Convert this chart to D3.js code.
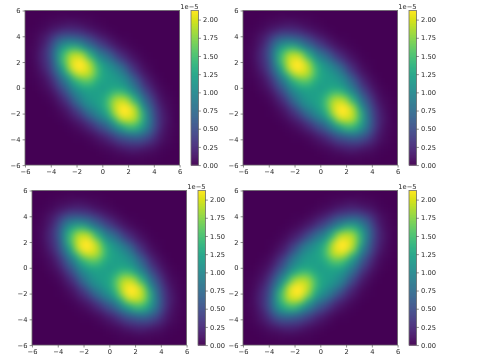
<!DOCTYPE html>
<html>
<head>
<meta charset="utf-8">
<script src="https://cdn.jsdelivr.net/npm/d3@7"></script>
<style>
  html, body { margin: 0; padding: 0; background: #fff; }
  svg { display: block; }
  text { font-family: "DejaVu Sans", sans-serif; font-size: 6.7px; fill: #262626; }
</style>
</head>
<body>
<svg id="chart" width="480" height="360"></svg>
<script>
// grid positions of the density samples
const xValues = d3.range(25).map(i => -6 + i * 0.5);
const yValues = d3.range(25).map(i => 6 - i * 0.5);

// density, in 1e-7, one row per y (6 down to -6)
const density = [
  [0,0,0,0,0,1,1,1,1,1,0,0,0,0,0,0,0,0,0,0,0,0,0,0,0],
  [0,0,0,1,2,2,4,3,3,2,2,1,0,0,0,0,0,0,0,0,0,0,0,0,0],
  [0,0,1,3,5,8,9,12,10,8,5,3,2,0,0,0,0,0,0,0,0,0,0,0,0],
  [0,1,3,6,14,18,26,26,25,20,14,9,5,3,1,0,0,0,0,0,0,0,0,0,0],
  [0,2,5,14,25,42,52,56,50,44,34,22,14,8,4,1,1,0,0,0,0,0,0,0,0],
  [1,2,8,18,42,68,90,98,93,80,62,45,31,19,10,5,2,1,0,0,0,0,0,0,0],
  [1,4,9,26,52,90,125,146,148,126,100,76,56,40,24,13,7,3,1,0,0,0,0,0,0],
  [1,3,12,26,56,98,146,185,195,185,141,108,86,68,47,28,16,8,3,1,0,0,0,0,0],
  [1,3,10,25,50,93,148,195,225,214,182,137,110,94,75,51,30,16,7,2,1,0,0,0,0],
  [1,2,8,20,44,80,126,185,214,222,195,155,126,110,98,80,51,28,13,5,1,0,0,0,0],
  [0,2,5,14,34,62,100,141,182,195,185,155,126,119,112,98,75,47,24,10,4,1,0,0,0],
  [0,1,3,9,22,45,76,108,137,155,155,135,124,118,119,110,94,68,40,19,8,3,0,0,0],
  [0,0,2,5,14,31,56,86,110,126,126,124,115,124,126,126,110,86,56,31,14,5,2,0,0],
  [0,0,0,3,8,19,40,68,94,110,119,118,124,135,155,155,137,108,76,45,22,9,3,1,0],
  [0,0,0,1,4,10,24,47,75,98,112,119,126,155,185,195,182,141,100,62,34,14,5,2,0],
  [0,0,0,0,1,5,13,28,51,80,98,110,126,155,195,222,214,185,126,80,44,20,8,2,1],
  [0,0,0,0,1,2,7,16,30,51,75,94,110,137,182,214,225,195,148,93,50,25,10,3,1],
  [0,0,0,0,0,1,3,8,16,28,47,68,86,108,141,185,195,185,146,98,56,26,12,3,1],
  [0,0,0,0,0,0,1,3,7,13,24,40,56,76,100,126,148,146,125,90,52,26,9,4,1],
  [0,0,0,0,0,0,0,1,2,5,10,19,31,45,62,80,93,98,90,68,42,18,8,2,1],
  [0,0,0,0,0,0,0,0,1,1,4,8,14,22,34,44,50,56,52,42,25,14,5,2,0],
  [0,0,0,0,0,0,0,0,0,0,1,3,5,9,14,20,25,26,26,18,14,6,3,1,0],
  [0,0,0,0,0,0,0,0,0,0,0,0,2,3,5,8,10,12,9,8,5,3,1,0,0],
  [0,0,0,0,0,0,0,0,0,0,0,0,0,1,2,2,3,3,4,2,2,1,0,0,0],
  [0,0,0,0,0,0,0,0,0,0,0,0,0,0,0,1,1,1,1,1,0,0,0,0,0]
];

// bottom right panel shows the same density with y flipped
const densityFlipped = density.slice().reverse();

const axisTicks = [-6, -4, -2, 0, 2, 4, 6];
const colorTicks = [0, 0.25, 0.5, 0.75, 1, 1.25, 1.5, 1.75, 2];
const colorMax = 2.125;
const offsetLabel = "1e\u22125";

const panels = [
  { left: 25, top: 10.5, bar: 191, rows: density },
  { left: 243, top: 10.5, bar: 409, rows: density },
  { left: 32, top: 190.5, bar: 198, rows: density },
  { left: 243, top: 190.5, bar: 409, rows: densityFlipped }
];

const size = 154.6,
      barWidth = 7.5,
      step = 0.5,
      spine = "#6e6e6e";

const svg = d3.select("#chart");
const color = v => d3.interpolateViridis(v / colorMax);
const tickFormat = d => String(d).replace("-", "\u2212");

let defs = svg.append("defs");
defs.append("filter")
    .attr("id", "smooth")
    .attr("color-interpolation-filters", "sRGB")
    .attr("x", "-10%").attr("y", "-10%")
    .attr("width", "120%").attr("height", "120%")
    .append("feGaussianBlur")
    .attr("stdDeviation", 3.4);
defs.append("filter")
    .attr("id", "soft")
    .attr("color-interpolation-filters", "sRGB")
    .attr("x", "-10%").attr("y", "-50%")
    .attr("width", "120%").attr("height", "200%")
    .append("feGaussianBlur")
    .attr("stdDeviation", 0.3);

let x = d3.scaleLinear().domain([-6, 6]).range([0, size]);
let y = d3.scaleLinear().domain([-6, 6]).range([size, 0]);
let c = d3.scaleLinear().domain([0, colorMax]).range([size, 0]);

panels.forEach((p, idx) => {

  let g = svg.append("g")
    .attr("transform", `translate(${p.left},${p.top})`);

  let clipId = `clip-${idx}`;
  defs.append("clipPath").attr("id", clipId)
    .append("rect").attr("width", size).attr("height", size);

  let plot = g.append("g").attr("clip-path", `url(#${clipId})`);

  plot.append("rect")
    .attr("width", size).attr("height", size)
    .attr("fill", color(0));

  let cells = p.rows.flatMap((row, j) =>
    row.map((v, i) => ({ x: xValues[i], y: yValues[j], v: v / 100 })));

  plot.append("g")
    .attr("filter", "url(#smooth)")
    .selectAll("rect")
    .data(cells)
    .enter().append("rect")
    .attr("x", d => x(d.x - step / 2))
    .attr("y", d => y(d.y + step / 2))
    .attr("width", d => x(d.x + step / 2) - x(d.x - step / 2))
    .attr("height", d => y(d.y - step / 2) - y(d.y + step / 2))
    .attr("shape-rendering", "crispEdges")
    .attr("fill", d => color(d.v));

  let soft = g.append("g").attr("filter", "url(#soft)");

  soft.append("rect")
    .attr("width", size).attr("height", size)
    .attr("fill", "none")
    .attr("stroke", spine)
    .attr("stroke-width", 0.8);

  let axisB = d3.axisBottom(x).tickValues(axisTicks).tickSize(2.4).tickPadding(2.2).tickFormat(tickFormat);
  let axisL = d3.axisLeft(y).tickValues(axisTicks).tickSize(2.4).tickPadding(2.2).tickFormat(tickFormat);

  let bindAxis = (_) => {
    _.select(".domain").remove();
    _.selectAll("line").attr("stroke", "#333").attr("stroke-width", 0.55);
  };

  soft.append("g").attr("transform", `translate(0,${size})`).call(axisB).call(bindAxis);
  soft.append("g").call(axisL).call(bindAxis);

  // colorbar
  let bar = svg.append("g")
    .attr("transform", `translate(${p.bar},${p.top})`);

  bar.append("g").selectAll("rect")
    .data(d3.range(0, colorMax, colorMax / 155))
    .enter().append("rect")
    .attr("width", barWidth)
    .attr("y", d => c(d) - size / 155)
    .attr("height", size / 155 + 0.5)
    .attr("fill", d => color(d));

  let softBar = bar.append("g").attr("filter", "url(#soft)");

  softBar.append("rect")
    .attr("width", barWidth).attr("height", size)
    .attr("fill", "none")
    .attr("stroke", spine)
    .attr("stroke-width", 0.8);

  softBar.append("g")
    .attr("transform", `translate(${barWidth},0)`)
    .call(d3.axisRight(c).tickValues(colorTicks).tickSize(2.4).tickPadding(2.2).tickFormat(d3.format(".2f")))
    .call(bindAxis);

  softBar.append("text")
    .attr("x", barWidth)
    .attr("y", -2)
    .attr("text-anchor", "end")
    .text(offsetLabel);

});
</script>
</body>
</html>
